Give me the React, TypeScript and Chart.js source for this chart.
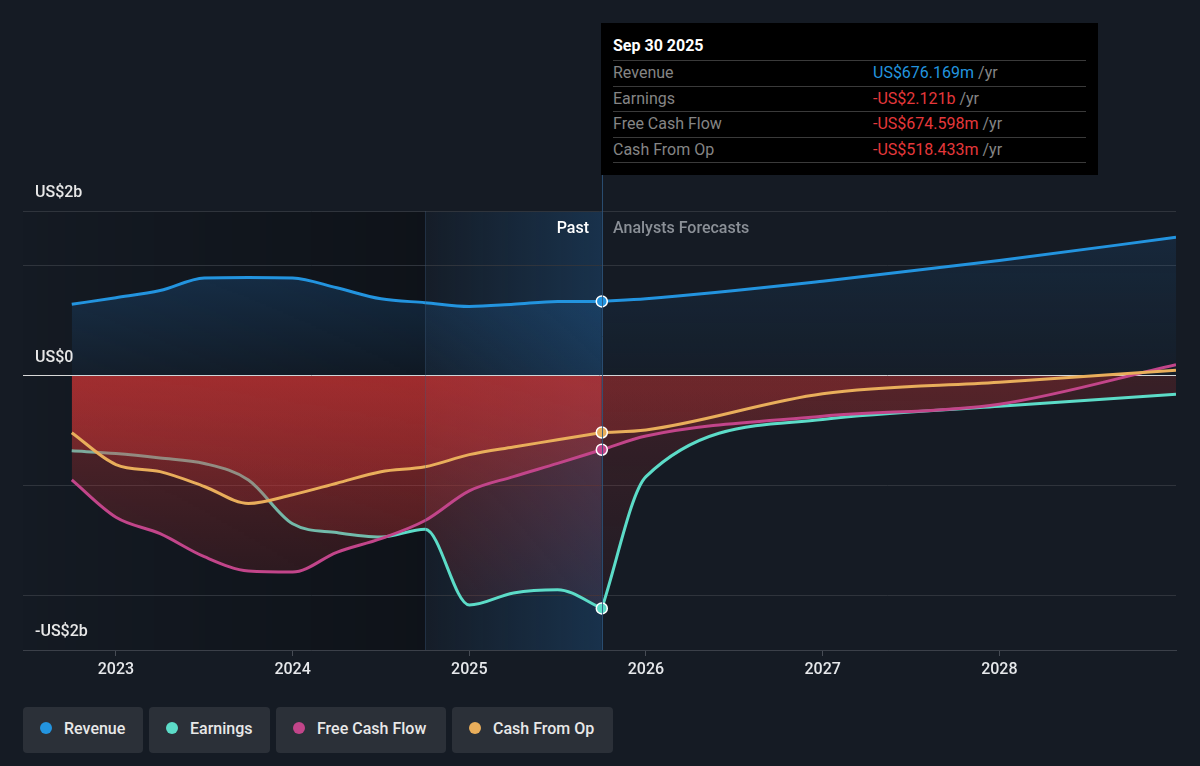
import React, { useEffect, useRef } from 'react';
import { Chart, registerables } from 'chart.js';

Chart.register(...registerables);

// ---------- data (US$ billions) ----------
const pastDates = [2022.75, 2023.0, 2023.25, 2023.5, 2023.75, 2024.0, 2024.25, 2024.5, 2024.75, 2025.0, 2025.25, 2025.5, 2025.75];
const forecastDates = [2025.75, 2026.0, 2027.0, 2028.0, 2029.0];

const revenuePast = [0.65, 0.71, 0.775, 0.89, 0.895, 0.89, 0.8, 0.7, 0.665, 0.63, 0.65, 0.675, 0.676];
const revenueForecast = [0.676, 0.7, 0.86, 1.05, 1.26];

const earningsPast = [-0.685, -0.71, -0.75, -0.8, -0.95, -1.35, -1.43, -1.47, -1.4, -2.09, -1.98, -1.95, -2.121];
const earningsForecast = [-2.121, -0.92, -0.4, -0.28, -0.17];

const fcfPast = [-0.95, -1.29, -1.44, -1.65, -1.78, -1.79, -1.61, -1.485, -1.32, -1.05, -0.92, -0.8, -0.675];
const fcfForecast = [-0.675, -0.55, -0.37, -0.26, 0.1];

const cfoPast = [-0.52, -0.81, -0.875, -1.01, -1.165, -1.085, -0.98, -0.875, -0.83, -0.72, -0.65, -0.585, -0.518];
const cfoForecast = [-0.518, -0.495, -0.165, -0.06, 0.05];

const xTickYears = [2023, 2024, 2025, 2026, 2027, 2028];
const yGridValues = [1.5, 1, 0, -1, -2, -2.5];
const yLabelValues = [1.5, 0, -2.5];
const yLabelTexts = ['US$2b', 'US$0', '-US$2b'];

const bandStart = 2024.75;
const nowDate = 2025.75;

const legendItems = ['Revenue', 'Earnings', 'Free Cash Flow', 'Cash From Op'];
const tooltipTitle = 'Sep 30 2025';
const tooltipValues = ['US$676.169m', '-US$2.121b', '-US$674.598m', '-US$518.433m'];

const COLORS = ['#2394df', '#5cdcc8', '#c2458a', '#e9ae5b'];
const BG = '#151b24';
const FONT = 'Roboto, "Noto Sans", sans-serif';

// ---------- gradients ----------
function redGrad(chart: any, a0: number, a1: number) {
  const area = chart.chartArea;
  if (!area) return 'rgba(0,0,0,0)';
  const { top, bottom } = area;
  const z = Math.min(1, Math.max(0, (chart.scales.y.getPixelForValue(0) - top) / (bottom - top)));
  const g = chart.ctx.createLinearGradient(0, top, 0, bottom);
  g.addColorStop(0, 'rgba(0,0,0,0)');
  g.addColorStop(z, 'rgba(0,0,0,0)');
  g.addColorStop(z, `rgba(205,52,52,${a0})`);
  g.addColorStop(1, `rgba(205,52,52,${a1})`);
  return g;
}

function blueGrad(chart: any, a0: number, a1: number) {
  const area = chart.chartArea;
  if (!area) return 'rgba(0,0,0,0)';
  const { top, bottom } = area;
  const z = Math.min(1, Math.max(0, (chart.scales.y.getPixelForValue(0) - top) / (bottom - top)));
  const g = chart.ctx.createLinearGradient(0, top, 0, bottom);
  g.addColorStop(0, `rgba(35,120,200,${a0})`);
  g.addColorStop(z, `rgba(35,120,200,${a1})`);
  g.addColorStop(z, 'rgba(0,0,0,0)');
  g.addColorStop(1, 'rgba(0,0,0,0)');
  return g;
}

function series(dates: number[], vals: number[], color: string, bg: any, order: number, endPoint: boolean) {
  return {
    data: dates.map((d, i) => ({ x: d, y: vals[i] })),
    borderColor: color,
    borderWidth: 3,
    backgroundColor: bg,
    fill: 'origin',
    cubicInterpolationMode: 'monotone',
    pointRadius: endPoint ? (c: any) => (c.dataIndex === dates.length - 1 ? 5.5 : 0) : 0,
    pointHoverRadius: 0,
    pointBackgroundColor: color,
    pointBorderColor: '#ffffff',
    pointBorderWidth: 1.5,
    order,
  };
}

const regionPlugin = {
  id: 'regions',
  beforeDraw(chart: any) {
    const { ctx, chartArea, scales } = chart;
    const { left, top, bottom } = chartArea;
    const xb = scales.x.getPixelForValue(bandStart);
    const xn = scales.x.getPixelForValue(nowDate);
    ctx.save();
    let g = ctx.createLinearGradient(left, 0, xb, 0);
    g.addColorStop(0, 'rgba(0,0,0,0.02)');
    g.addColorStop(1, 'rgba(0,0,0,0.3)');
    ctx.fillStyle = g;
    ctx.fillRect(left, top, xb - left, bottom - top);
    g = ctx.createLinearGradient(xb, 0, xn, 0);
    g.addColorStop(0, 'rgba(35,110,180,0.03)');
    g.addColorStop(1, 'rgba(35,110,180,0.28)');
    ctx.fillStyle = g;
    ctx.fillRect(xb, top, xn - xb, bottom - top);
    ctx.restore();
  },
  afterDatasetsDraw(chart: any) {
    const { ctx, chartArea, scales } = chart;
    const xb = Math.round(scales.x.getPixelForValue(bandStart)) + 0.5;
    const xn = Math.round(scales.x.getPixelForValue(nowDate)) + 0.5;
    ctx.save();
    ctx.lineWidth = 1;
    ctx.strokeStyle = 'rgba(60,90,120,0.35)';
    ctx.beginPath();
    ctx.moveTo(xb, chartArea.top);
    ctx.lineTo(xb, chartArea.bottom);
    ctx.stroke();
    ctx.strokeStyle = 'rgba(45,85,125,0.85)';
    ctx.beginPath();
    ctx.moveTo(xn, 23);
    ctx.lineTo(xn, chartArea.bottom);
    ctx.stroke();
    ctx.restore();
  },
};

export default function App() {
  const ref = useRef<HTMLCanvasElement>(null);

  useEffect(() => {
    const canvas = ref.current;
    if (!canvas) return;
    Chart.defaults.font.family = FONT;
    const pastRed = (c: any) => redGrad(c.chart, 0.38, 0.06);
    const foreRed = (c: any) => redGrad(c.chart, 0.2, 0.04);
    const pastBlue = (c: any) => blueGrad(c.chart, 0.34, 0.06);
    const foreBlue = (c: any) => blueGrad(c.chart, 0.16, 0.03);

    const chart = new Chart(canvas, {
      type: 'line',
      data: {
        datasets: [
          series(pastDates, cfoPast, COLORS[3], pastRed, 0, true),
          series(pastDates, fcfPast, COLORS[2], pastRed, 1, true),
          series(pastDates, earningsPast, COLORS[1], pastRed, 2, true),
          series(pastDates, revenuePast, COLORS[0], pastBlue, 3, true),
          series(forecastDates, cfoForecast, COLORS[3], foreRed, 4, false),
          series(forecastDates, fcfForecast, COLORS[2], foreRed, 5, false),
          series(forecastDates, earningsForecast, COLORS[1], foreRed, 6, false),
          series(forecastDates, revenueForecast, COLORS[0], foreBlue, 7, false),
        ] as any,
      },
      options: {
        animation: false,
        responsive: false,
        maintainAspectRatio: false,
        events: [],
        layout: { padding: { left: 23, right: 24, top: 211, bottom: 10 } },
        plugins: { legend: { display: false }, tooltip: { enabled: false } },
        scales: {
          x: {
            type: 'linear',
            min: 2022.474,
            max: 2029.0,
            afterBuildTicks: (s: any) => {
              s.ticks = xTickYears.map((v) => ({ value: v }));
            },
            afterFit: (s: any) => {
              s.height = 40;
            },
            ticks: {
              callback: (v: any) => String(v),
              color: '#e6e8eb',
              font: { size: 16, weight: 500 as any },
              padding: 4,
              maxRotation: 0,
              autoSkip: false,
            },
            grid: { drawOnChartArea: false, drawTicks: true, tickLength: 6, color: '#474c55' },
            border: { color: '#3b4049', width: 1 },
          },
          y: {
            min: -2.5,
            max: 1.5,
            afterBuildTicks: (s: any) => {
              s.ticks = yGridValues.map((v) => ({ value: v }));
            },
            afterFit: (s: any) => {
              s.width = 0;
            },
            ticks: {
              mirror: true,
              padding: 12,
              labelOffset: -18,
              color: '#e8e8e8',
              font: { size: 16, weight: 500 as any },
              callback: (v: any) => {
                const i = yLabelValues.indexOf(Number(v));
                return i >= 0 ? yLabelTexts[i] : '';
              },
            },
            grid: {
              drawTicks: false,
              color: (c: any) => (c.tick && c.tick.value === 0 ? '#d8d8d8' : '#2f343c'),
            },
            border: { display: false },
          },
        },
      } as any,
      plugins: [regionPlugin],
    });
    return () => chart.destroy();
  }, []);

  const legendWidths = [120, 121, 170, 161];
  const tooltipLabels = legendItems;

  return (
    <div
      style={{
        position: 'fixed',
        left: 0,
        top: 0,
        width: 1200,
        height: 766,
        background: BG,
        overflow: 'hidden',
        fontFamily: FONT,
      }}
    >
      <canvas ref={ref} width={1200} height={700} style={{ position: 'absolute', left: 0, top: 0, width: 1200, height: 700 }} />

      <div
        style={{
          position: 'absolute',
          right: 611,
          top: 218,
          lineHeight: '20px',
          fontSize: 16,
          fontWeight: 500,
          color: '#ffffff',
        }}
      >
        Past
      </div>
      <div
        style={{
          position: 'absolute',
          left: 613,
          top: 218,
          lineHeight: '20px',
          fontSize: 16,
          fontWeight: 500,
          color: '#8b9097',
        }}
      >
        Analysts Forecasts
      </div>

      {/* tooltip */}
      <div
        style={{
          position: 'absolute',
          left: 601,
          top: 23,
          width: 497,
          height: 152,
          background: '#000000',
        }}
      >
        <div
          style={{
            position: 'absolute',
            left: 12,
            top: 12,
            lineHeight: '22px',
            fontSize: 16,
            fontWeight: 700,
            color: '#ffffff',
          }}
        >
          {tooltipTitle}
        </div>
        {tooltipLabels.map((lab, i) => (
          <div
            key={lab}
            style={{
              position: 'absolute',
              left: 12,
              width: 473,
              top: 37 + i * 25.5,
              height: 25.5,
              borderTop: '1px solid #3a3a3a',
              boxSizing: 'border-box',
              lineHeight: '23px',
              fontSize: 16,
            }}
          >
            <span style={{ position: 'absolute', left: 0, color: '#858585' }}>{lab}</span>
            <span style={{ position: 'absolute', left: 260, whiteSpace: 'nowrap' }}>
              <span style={{ color: i === 0 ? '#2394df' : '#e5383b' }}>{tooltipValues[i]}</span>
              <span style={{ color: '#858585' }}> /yr</span>
            </span>
          </div>
        ))}
        <div
          style={{
            position: 'absolute',
            left: 12,
            width: 473,
            top: 139,
            height: 1,
            background: '#3a3a3a',
          }}
        />
      </div>

      {/* legend */}
      <div style={{ position: 'absolute', left: 23, top: 707, display: 'flex', gap: 6 }}>
        {legendItems.map((lab, i) => (
          <div
            key={lab}
            style={{
              width: legendWidths[i],
              height: 46,
              boxSizing: 'border-box',
              background: '#2b3038',
              borderRadius: 4,
              display: 'flex',
              alignItems: 'center',
              paddingLeft: 17,
              paddingBottom: 4,
            }}
          >
            <span
              style={{
                width: 12,
                height: 12,
                borderRadius: '50%',
                background: COLORS[i],
                marginRight: 12,
                flex: 'none',
              }}
            />
            <span style={{ color: '#e8e8e8', fontSize: 16, fontWeight: 500, whiteSpace: 'nowrap' }}>{lab}</span>
          </div>
        ))}
      </div>
    </div>
  );
}
